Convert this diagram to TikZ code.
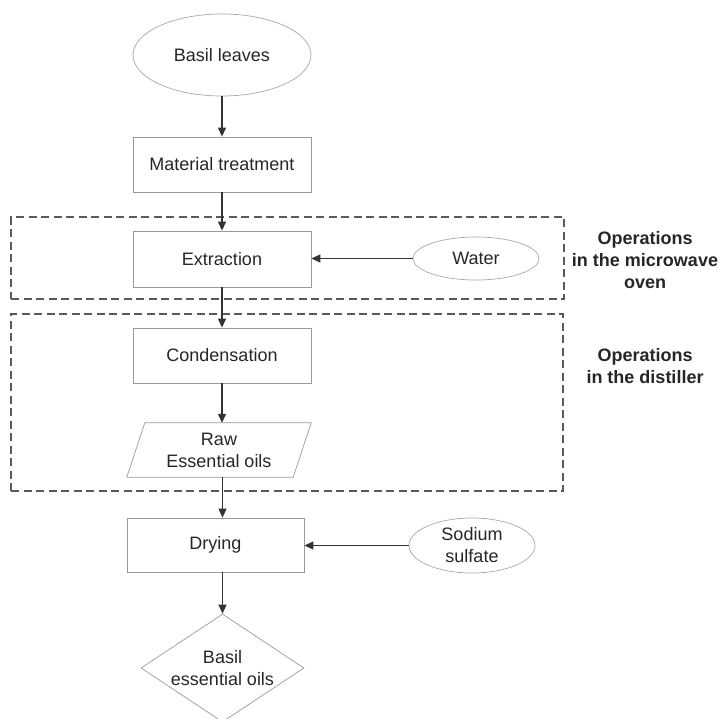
\documentclass[tikz,border=0pt]{standalone}
\usepackage{fontspec}
\setmainfont{Liberation Sans}
\usetikzlibrary{shapes.geometric,arrows.meta,calc}
\definecolor{txt}{HTML}{262626}
\definecolor{edge}{HTML}{9A9A9A}
\definecolor{ovaledge}{HTML}{A8A8A8}
\definecolor{flow}{HTML}{333333}
\definecolor{grp}{HTML}{5A5A5A}
\begin{document}
\begin{tikzpicture}[x=1pt,y=-1pt,
  every node/.style={font=\fontsize{18}{22}\selectfont, text=txt, align=center},
  stepbox/.style={draw=edge, line width=0.8pt, rectangle, minimum width=178pt, minimum height=55pt, inner sep=0pt},
  oval/.style={draw=ovaledge, line width=0.7pt, ellipse, inner sep=0pt},
  plain/.style={rectangle, minimum width=166pt, minimum height=54pt, inner sep=0pt},
  product/.style={draw=edge, line width=0.7pt, diamond, aspect=1.5, minimum width=163pt, minimum height=108pt, inner sep=0pt},
  groupbox/.style={draw=grp, line width=1.2pt, dash pattern=on 8pt off 4.5pt, rectangle, inner sep=0pt},
  grouplabel/.style={font=\fontsize{18}{22}\selectfont\bfseries, text=txt},
  flowarrow/.style={draw=flow, line width=1.2pt, -{Triangle[length=9pt,width=8pt]}}]
\useasboundingbox (0,0) rectangle (719,718);

% operation groups
\node[groupbox, minimum width=553pt, minimum height=82pt] (oven) at (287.5,258) {};
\node[groupbox, minimum width=552pt, minimum height=177pt] (distiller) at (287,402.5) {};
\node[grouplabel] (ovenlabel) at (645,260) {Operations\\in the microwave\\oven};
\node[grouplabel] (distlabel) at (645,366) {Operations\\in the distiller};

% process steps
\node[oval, minimum width=178pt, minimum height=82pt] (leaves) at (222,55) {Basil leaves};
\node[stepbox] (treat) at (222,164.5) {Material treatment};
\node[stepbox, minimum height=56pt] (extract) at (222,259) {Extraction};
\node[oval, minimum width=126pt, minimum height=43pt] (water) at (476,258.5) {Water};
\node[stepbox] (cond) at (222,355.5) {Condensation};
\node[plain] (raw) at (219,450) {Raw\\Essential oils};
\draw[draw=edge, line width=0.7pt]
  ([xshift=9pt]raw.north west) -- ([xshift=9pt]raw.north east)
  -- ([xshift=-9pt]raw.south east) -- ([xshift=-9pt]raw.south west) -- cycle;
\node[stepbox, minimum width=177pt, minimum height=54pt] (dry) at (215.5,545) {Drying};
\node[oval, minimum width=126pt, minimum height=55pt] (salt) at (472,545.5) {Sodium\\sulfate};
\node[product] (oils) at (222.5,668) {Basil\\essential oils};

% connectors
\draw[flowarrow] (leaves) -- (treat);
\draw[flowarrow] (treat) -- (extract);
\draw[flowarrow] (water) -- (extract.east |- water);
\draw[flowarrow] (extract) -- (cond);
\draw[flowarrow] (cond.south -| leaves) -- (raw.north -| leaves);
\draw[flowarrow] (raw.south -| oils) -- (dry.north -| oils);
\draw[flowarrow] (salt) -- (dry.east |- salt);
\draw[flowarrow] (dry.south -| oils) -- (oils);
\end{tikzpicture}
\end{document}
